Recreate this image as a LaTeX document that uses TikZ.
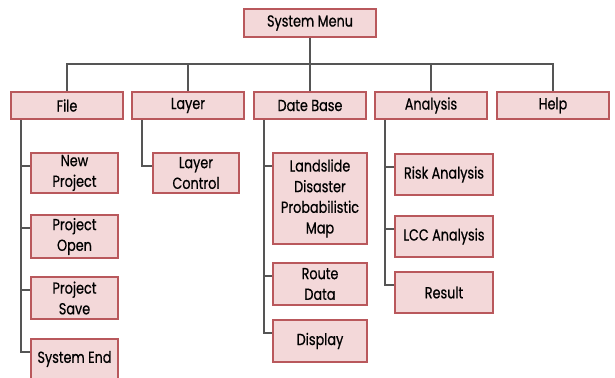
\documentclass[tikz,border=0pt]{standalone}
\usepackage{fontspec}
\setmainfont{Poppins}[FakeStretch=0.8,FakeBold=0.6]
\usetikzlibrary{positioning,calc}
\definecolor{Rose}{HTML}{F3D8D9}
\definecolor{Brick}{HTML}{B9585C}
\definecolor{Wire}{HTML}{555555}
\tikzset{
  menu box/.style={draw=Brick,line width=1.3pt,fill=Rose,align=center,
    minimum width=84pt,minimum height=20.5pt,inner sep=1pt,
    font=\fontsize{12}{14}\selectfont},
  item box/.style={draw=Brick,line width=1.3pt,fill=Rose,align=center,
    inner sep=1pt,font=\fontsize{12}{15.5}\selectfont},
  tree line/.style={draw=Wire,line width=1.4pt}
}
\begin{document}
\begin{tikzpicture}[x=0.75pt,y=-0.75pt]
  \useasboundingbox (0,0) rectangle (615,378);
  % top level
  \node[menu box,minimum width=99pt] (menu) at (310,23) {System Menu};
  \node[menu box] (file) at (67,105.5) {File};
  \node[menu box] (layer) at (188,105.5) {Layer};
  \node[menu box] (base) at (310,105.5) {Date Base};
  \node[menu box] (analysis) at (431,105.5) {Analysis};
  \node[menu box] (help) at (553,105.5) {Help};
  \coordinate (bus) at (310,64);
  \draw[tree line] (menu.south) -- (bus);
  \draw[tree line] (file.north) |- (bus) -| (help.north);
  \foreach \n in {layer,base,analysis}
    \draw[tree line] (\n.north) -- (\n.north |- bus);
  % file items
  \node[item box,minimum width=65pt,minimum height=30pt] (new) at (74.5,173) {New\\Project};
  \node[item box,minimum width=65pt,minimum height=32pt] (open) at (74.5,236.5) {Project\\Open};
  \node[item box,minimum width=65pt,minimum height=31.5pt] (save) at (74.5,298) {Project\\Save};
  \node[item box,minimum width=65pt,minimum height=30pt] (quit) at (74.5,359) {System End};
  % layer items
  \node[item box,minimum width=64.5pt,minimum height=30pt] (control) at (196,173) {Layer\\Control};
  % data base items
  \node[item box,minimum width=70.5pt,minimum height=68pt] (hazard) at (320,198.5) {Landslide\\Disaster\\Probabilistic\\Map};
  \node[item box,minimum width=70.5pt,minimum height=31.5pt] (route) at (320,284) {Route\\Data};
  \node[item box,minimum width=70.5pt,minimum height=31.5pt] (display) at (320,341) {Display};
  % analysis items
  \node[item box,minimum width=73.5pt,minimum height=31pt] (risk) at (444,174.5) {Risk Analysis};
  \node[item box,minimum width=73.5pt,minimum height=31pt] (lcc) at (444,236.5) {LCC Analysis};
  \node[item box,minimum width=73.5pt,minimum height=31pt] (result) at (444,292.5) {Result};
  % branches
  \foreach \top/\kids in {file/{new,open,save,quit},layer/{control},
      base/{hazard,route,display},analysis/{risk,lcc,result}}
    \foreach \k in \kids
      \draw[tree line] ($(\top.south west)+(11,0)$) |- ($(\k.north west)+(0,14)$);
\end{tikzpicture}
\end{document}
